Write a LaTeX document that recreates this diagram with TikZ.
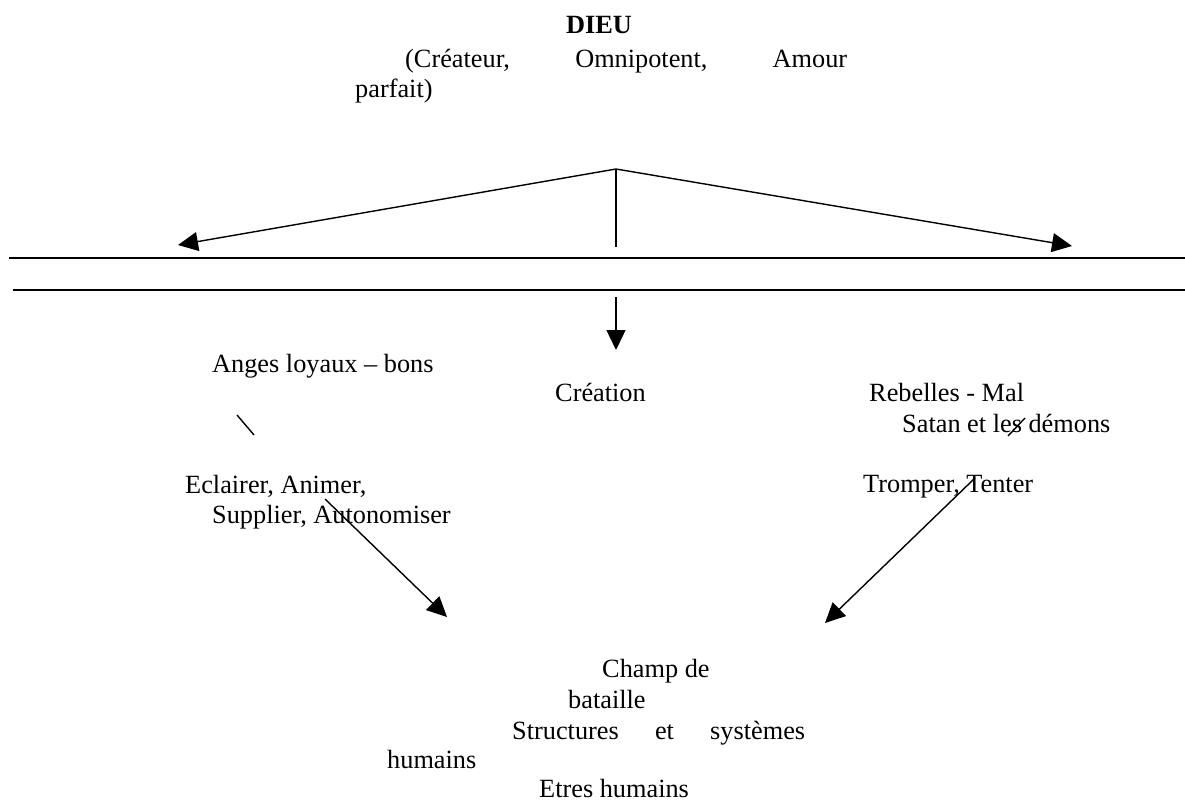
\documentclass[tikz,border=0pt]{standalone}
\usepackage{fontspec}
\setmainfont{Liberation Serif}
\usetikzlibrary{arrows.meta}
\begin{document}
\begin{tikzpicture}[x=1pt,y=-1pt,
  txt/.style={inner sep=0pt,anchor=base west,font=\fontsize{26.3}{30.5}\selectfont},
  ln/.style={line width=1.4pt},
  arr/.style={line width=1.4pt,-{Triangle[length=20pt,width=19pt]}}]
\useasboundingbox (0,0) rectangle (1185,801);
% texts
\node[txt,font=\fontsize{26.3}{30.5}\selectfont\bfseries] (dieu) at (566,33) {DIEU};
\node[txt] (attr) at (405,67) {\makebox[442pt][s]{(Créateur, Omnipotent, Amour}};
\node[txt] (parf) at (355,97) {parfait)};
\node[txt] (anges) at (212,372) {Anges loyaux – bons};
\node[txt] (crea) at (555,401) {Création};
\node[txt] (rebel) at (869,401) {Rebelles - Mal};
\node[txt] (satan) at (902,432) {Satan et les démons};
\node[txt] (ecl) at (185,493) {Eclairer, Animer,};
\node[txt] (supp) at (212,523) {Supplier, Autonomiser};
\node[txt] (tromp) at (863,492) {Tromper, Tenter};
\node[txt] (champ) at (602,677) {Champ de};
\node[txt] (bat) at (568,708) {bataille};
\node[txt] (struct) at (512,739) {\makebox[293pt][s]{Structures et systèmes}};
\node[txt] (hum) at (387,768) {humains};
\node[txt] (etres) at (539,797) {Etres humains};
% coordinates
\coordinate (apex) at (616,169);
\coordinate (ltip) at (178,245);
\coordinate (rtip) at (1072,246);
\coordinate (vbot) at (616,247);
\coordinate (h1l) at (9,258);
\coordinate (h1r) at (1185,258);
\coordinate (h2l) at (13,290);
\coordinate (h2r) at (1185,290);
\coordinate (dtop) at (616,297);
\coordinate (dtip) at (616,350);
\coordinate (s1a) at (237,415);
\coordinate (s1b) at (254,435);
\coordinate (s2a) at (1025,418);
\coordinate (s2b) at (1008,436);
\coordinate (ga) at (325,499);
\coordinate (gtip) at (447,617);
\coordinate (ma) at (975,478);
\coordinate (mtip) at (825,623);
% connectors
\draw[arr] (apex) -- (ltip);
\draw[arr] (apex) -- (rtip);
\draw[ln] (apex) -- (vbot);
\draw[ln] (h1l) -- (h1r);
\draw[ln] (h2l) -- (h2r);
\draw[arr] (dtop) -- (dtip);
\draw[ln] (s1a) -- (s1b);
\draw[ln] (s2a) -- (s2b);
\draw[arr] (ga) -- (gtip);
\draw[arr] (ma) -- (mtip);
\end{tikzpicture}
\end{document}
